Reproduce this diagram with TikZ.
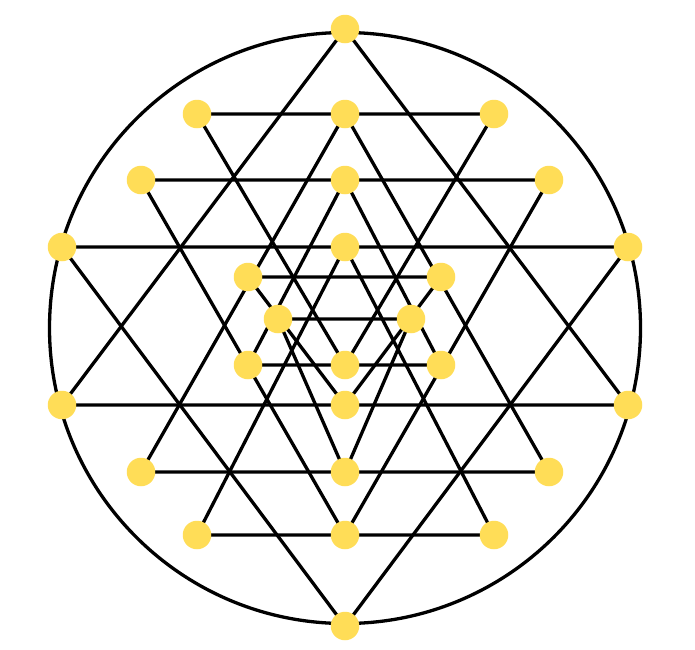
\documentclass[tikz,border=0pt]{standalone}
\definecolor{dotyellow}{RGB}{255,221,87}
\begin{document}
\begin{tikzpicture}[x=1pt,y=-1pt,
  dot/.style={circle,fill=dotyellow,minimum size=28.5pt,inner sep=0pt},
  ln/.style={line width=3.3pt,black,line join=round}]
\useasboundingbox (0,0) rectangle (695,649);
\fill[white] (0,0) rectangle (695,649);
% vertices
\coordinate (T) at (345,29);
\coordinate (B) at (345,626);
\coordinate (A1) at (197,114); \coordinate (A2) at (345,114); \coordinate (A3) at (494,114);
\coordinate (C1) at (141,180); \coordinate (C2) at (345,180); \coordinate (C3) at (549,180);
\coordinate (D1) at (62,247);  \coordinate (D2) at (345,247); \coordinate (D3) at (628,247);
\coordinate (E1) at (248,277); \coordinate (E3) at (441,277);
\coordinate (F1) at (278,319); \coordinate (F3) at (411,319);
\coordinate (G1) at (248,365); \coordinate (G2) at (345,365); \coordinate (G3) at (441,365);
\coordinate (H1) at (62,405);  \coordinate (H2) at (345,405); \coordinate (H3) at (628,405);
\coordinate (I1) at (141,472); \coordinate (I2) at (345,472); \coordinate (I3) at (549,472);
\coordinate (J1) at (197,535); \coordinate (J2) at (345,535); \coordinate (J3) at (494,535);
% outer circle
\draw[ln] (345,328) circle[radius=295.5pt];
% upward triangles
\draw[ln] (T) -- (H1) -- (H3) -- cycle;
\draw[ln] (A2) -- (I1) -- (I3) -- cycle;
\draw[ln] (C2) -- (G1) -- (G3) -- cycle;
\draw[ln] (D2) -- (J1) -- (J3) -- cycle;
% downward triangles
\draw[ln] (B) -- (D1) -- (D3) -- cycle;
\draw[ln] (J2) -- (C1) -- (C3) -- cycle;
\draw[ln] (G2) -- (A1) -- (A3) -- cycle;
\draw[ln] (H2) -- (E1) -- (E3) -- cycle;
\draw[ln] (I2) -- (F1) -- (F3) -- cycle;
% dots
\foreach \p in {T,B,A1,A2,A3,C1,C2,C3,D1,D2,D3,E1,E3,F1,F3,G1,G2,G3,H1,H2,H3,I1,I2,I3,J1,J2,J3}
  \node[dot] (n\p) at (\p) {};
\end{tikzpicture}
\end{document}
